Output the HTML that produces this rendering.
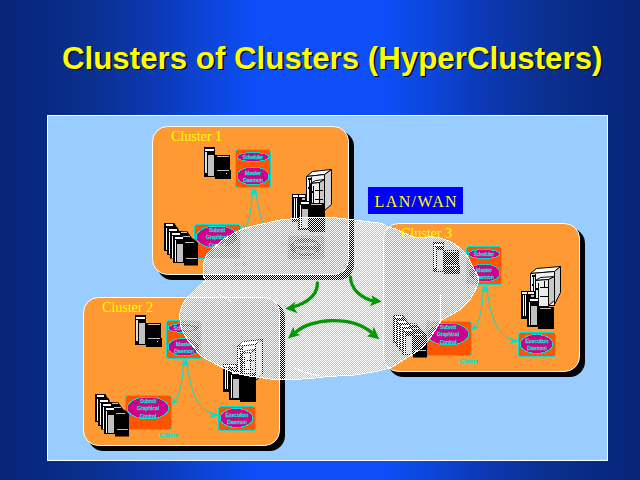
<!DOCTYPE html>
<html><head><meta charset="utf-8"><style>html,body{margin:0;padding:0;width:640px;height:480px;overflow:hidden;background:#0A2472}</style></head>
<body><svg width="640" height="480" viewBox="0 0 640 480" style="display:block">
<defs>
<linearGradient id="bg" x1="0" y1="0" x2="1" y2="0">
<stop offset="0" stop-color="#072478"/><stop offset="0.15" stop-color="#0A3090"/><stop offset="0.25" stop-color="#0B3AB8"/><stop offset="0.33" stop-color="#0D46DC"/><stop offset="0.4" stop-color="#0E4EF8"/><stop offset="0.6" stop-color="#0E4EF8"/><stop offset="0.67" stop-color="#0D46DC"/><stop offset="0.75" stop-color="#0B3AB8"/><stop offset="0.85" stop-color="#0A3090"/><stop offset="1" stop-color="#072478"/>
</linearGradient>
<pattern id="dith" x="0" y="0" width="2" height="2" patternUnits="userSpaceOnUse">
<rect x="0" y="0" width="1" height="1" fill="#fff"/><rect x="1" y="1" width="1" height="1" fill="#fff"/>
</pattern>
</defs>
<rect width="640" height="480" fill="url(#bg)"/>
<text transform="translate(63.5,70) scale(0.978,1)" x="0" y="0" font-family="Liberation Sans" font-weight="bold" font-size="32" fill="#000">Clusters of Clusters (HyperClusters)</text>
<text transform="translate(62,68.5) scale(0.978,1)" x="0" y="0" font-family="Liberation Sans" font-weight="bold" font-size="32" fill="#FFFF00">Clusters of Clusters (HyperClusters)</text>
<rect x="47.5" y="115.5" width="560" height="345" fill="#99CCFF" stroke="#fff" stroke-width="1"/>
<g transform="translate(152,126)"><rect x="5" y="5" width="197" height="149" rx="15.5" fill="#000"/><rect x="0.5" y="0.5" width="196" height="148" rx="15" fill="#FF9933" stroke="#fff" stroke-width="1"/><g transform="translate(0,0)"><rect x="52" y="21" width="11" height="30" fill="#000"/><rect x="53" y="23" width="9" height="2" fill="#fff"/><rect x="53" y="26" width="2" height="21" fill="#e0e0e0"/><rect x="56" y="29" width="6" height="21" fill="#c0c0c0"/><rect x="63" y="29" width="15" height="24" fill="#000"/><rect x="77" y="44" width="2" height="9" fill="#000"/><rect x="65" y="30" width="12" height="1" fill="#c0c0c0"/><rect x="65" y="44" width="12" height="1" fill="#c0c0c0"/><rect x="74" y="47" width="1" height="1" fill="#fff"/><rect x="83.5" y="23.5" width="35" height="38" rx="3" fill="#FF5500" stroke="#00E0D0" shape-rendering="crispEdges"/><ellipse cx="101" cy="31" rx="16" ry="4.5" fill="#D0008C" stroke="#00E0D0" shape-rendering="crispEdges"/><ellipse cx="101" cy="50" rx="16" ry="9" fill="#D0008C" stroke="#00E0D0" shape-rendering="crispEdges"/><text x="101" y="33" font-family="Liberation Sans" font-size="4.5" fill="#00E0D0" stroke="#00E0D0" stroke-width="0.3" text-anchor="middle">Scheduler</text><text x="101" y="48.5" font-family="Liberation Sans" font-size="5.2" fill="#00E0D0" stroke="#00E0D0" stroke-width="0.3" text-anchor="middle">Master</text><text x="101" y="55.5" font-family="Liberation Sans" font-size="5.2" fill="#00E0D0" stroke="#00E0D0" stroke-width="0.3" text-anchor="middle">Daemon</text><rect x="42.5" y="98.5" width="46" height="34" rx="3" fill="#FF5500" stroke="#00E0D0" shape-rendering="crispEdges"/><ellipse cx="65" cy="111" rx="21" ry="11" fill="#D0008C" stroke="#00E0D0" shape-rendering="crispEdges"/><text x="65" y="105.5" font-family="Liberation Sans" font-size="5.2" fill="#00E0D0" stroke="#00E0D0" stroke-width="0.3" text-anchor="middle">Submit</text><text x="65" y="113" font-family="Liberation Sans" font-size="5.2" fill="#00E0D0" stroke="#00E0D0" stroke-width="0.3" text-anchor="middle">Graphical</text><text x="65" y="120.5" font-family="Liberation Sans" font-size="5.2" fill="#00E0D0" stroke="#00E0D0" stroke-width="0.3" text-anchor="middle">Control</text><rect x="135.5" y="109.5" width="37" height="24" rx="3" fill="#FF5500" stroke="#00E0D0" shape-rendering="crispEdges"/><ellipse cx="153.5" cy="121" rx="16.5" ry="9.5" fill="#D0008C" stroke="#00E0D0" shape-rendering="crispEdges"/><text x="154" y="120" font-family="Liberation Sans" font-size="5.2" fill="#00E0D0" stroke="#00E0D0" stroke-width="0.3" text-anchor="middle">Execution</text><text x="154" y="126.5" font-family="Liberation Sans" font-size="5.2" fill="#00E0D0" stroke="#00E0D0" stroke-width="0.3" text-anchor="middle">Daemon</text><text x="85.5" y="140" font-family="Liberation Sans" font-size="6" fill="#00E0D0" stroke="#00E0D0" stroke-width="0.3" text-anchor="middle">Clients</text><path d="M100.5,64 C100,78 98.5,90 95,99 S91,105 89,107" fill="none" stroke="#00E0D0" stroke-width="1"/><path d="M103.5,64 C106,82 110,100 117,108 S128,116 135,118" fill="none" stroke="#00E0D0" stroke-width="1"/><polygon points="101,61.5 98,70 101,68 103,69" fill="#00E0D0"/><polygon points="103,61.5 101,69 103,68 106,70" fill="#00E0D0"/><polygon points="88.5,108 91,99.5 92,104 97,104" fill="#00E0D0"/><polygon points="135.5,118.5 126.5,114.5 129,118 125.5,121.5" fill="#00E0D0"/><polygon points="12,97 22.5,97 24,100 26,102 27,105 35.5,105.5 37,108 40,112 43,114 46,117 46,139.5 32,139.5 32,137 21,137 21,132.5 18,132.5 18,129 15,129 15,125 12,125" fill="#000"/><rect x="14" y="98" width="7" height="2" fill="#fff"/><rect x="17" y="103" width="8" height="2" fill="#fff"/><rect x="20" y="107" width="8" height="2" fill="#fff"/><rect x="23" y="111" width="8" height="2" fill="#fff"/><rect x="14" y="102" width="1" height="22" fill="#fff"/><rect x="17" y="106" width="1" height="22" fill="#fff"/><rect x="20" y="110" width="1" height="22" fill="#fff"/><rect x="23" y="114" width="1" height="22" fill="#fff"/><rect x="25" y="118" width="6" height="18" fill="#c0c0c0"/><rect x="29" y="106" width="6" height="1" fill="#c0c0c0"/><rect x="31" y="110" width="7" height="1" fill="#c0c0c0"/><rect x="33" y="116" width="9" height="1" fill="#c0c0c0"/><rect x="34" y="132" width="11" height="1" fill="#c0c0c0"/><polygon points="154.5,50.5 160.5,45.5 179.5,43.5 172.5,48.5" fill="#fff" stroke="#000" stroke-width="1"/><polygon points="172.5,48.5 179.5,43.5 179.5,78.5 172.5,84.5" fill="#d0d0d0" stroke="#000" stroke-width="1"/><polygon points="154.5,50.5 172.5,48.5 172.5,82.5 154.5,82.5" fill="#f4f4f4" stroke="#000" stroke-width="1"/><rect x="157.0" y="53" width="1" height="28" fill="#000"/><rect x="156.0" y="52" width="3" height="2" fill="#000"/><polygon points="158.5,57.5 163.5,54.5 172.5,53.5 167.5,56.5" fill="#fff" stroke="#000" stroke-width="1"/><polygon points="167.5,56.5 172.5,53.5 172.5,77.5 167.5,82.5" fill="#c8c8c8" stroke="#000" stroke-width="1"/><polygon points="158.5,57.5 167.5,56.5 167.5,83.5 158.5,83.5" fill="#ececec" stroke="#000" stroke-width="1"/><rect x="161.0" y="60" width="1" height="23" fill="#000"/><rect x="159.0" y="65" width="2" height="2" fill="#000"/><rect x="163.0" y="64" width="8" height="1" fill="#000"/><rect x="163.0" y="73" width="8" height="1" fill="#000"/><rect x="167.0" y="58" width="1" height="6" fill="#000"/><rect x="159.0" y="51" width="1" height="31" fill="#000"/><rect x="156.0" y="61" width="2" height="2" fill="#000"/><rect x="140" y="68" width="14" height="28" fill="#000"/><rect x="141" y="69" width="5" height="2" fill="#fff"/><rect x="142" y="72" width="1" height="21" fill="#fff"/><rect x="144" y="72" width="1" height="21" fill="#fff"/><rect x="147" y="69" width="6" height="2" fill="#fff"/><rect x="150" y="72" width="3" height="2" fill="#c0c0c0"/><rect x="146" y="75" width="12" height="29" fill="#000"/><rect x="149" y="76" width="8" height="2" fill="#fff"/><rect x="148" y="79" width="1" height="23" fill="#fff"/><rect x="150" y="83" width="6" height="19" fill="#c0c0c0"/><rect x="157" y="77" width="16" height="29" fill="#000"/><rect x="159" y="78" width="11" height="1" fill="#c0c0c0"/></g></g>
<g transform="translate(83,297)"><rect x="5" y="5" width="197" height="149" rx="15.5" fill="#000"/><rect x="0.5" y="0.5" width="196" height="148" rx="15" fill="#FF9933" stroke="#fff" stroke-width="1"/><g transform="translate(0,0)"><rect x="52" y="18" width="11" height="30" fill="#000"/><rect x="53" y="20" width="9" height="2" fill="#fff"/><rect x="53" y="23" width="2" height="21" fill="#e0e0e0"/><rect x="56" y="26" width="6" height="21" fill="#c0c0c0"/><rect x="63" y="26" width="15" height="24" fill="#000"/><rect x="77" y="41" width="2" height="9" fill="#000"/><rect x="65" y="27" width="12" height="1" fill="#c0c0c0"/><rect x="65" y="41" width="12" height="1" fill="#c0c0c0"/><rect x="74" y="44" width="1" height="1" fill="#fff"/><rect x="83.5" y="23.5" width="35" height="38" rx="3" fill="#FF5500" stroke="#00E0D0" shape-rendering="crispEdges"/><ellipse cx="101" cy="31" rx="16" ry="4.5" fill="#D0008C" stroke="#00E0D0" shape-rendering="crispEdges"/><ellipse cx="101" cy="50" rx="16" ry="9" fill="#D0008C" stroke="#00E0D0" shape-rendering="crispEdges"/><text x="101" y="33" font-family="Liberation Sans" font-size="4.5" fill="#00E0D0" stroke="#00E0D0" stroke-width="0.3" text-anchor="middle">Scheduler</text><text x="101" y="48.5" font-family="Liberation Sans" font-size="5.2" fill="#00E0D0" stroke="#00E0D0" stroke-width="0.3" text-anchor="middle">Master</text><text x="101" y="55.5" font-family="Liberation Sans" font-size="5.2" fill="#00E0D0" stroke="#00E0D0" stroke-width="0.3" text-anchor="middle">Daemon</text><rect x="42.5" y="98.5" width="46" height="34" rx="3" fill="#FF5500" stroke="#00E0D0" shape-rendering="crispEdges"/><ellipse cx="65" cy="111" rx="21" ry="11" fill="#D0008C" stroke="#00E0D0" shape-rendering="crispEdges"/><text x="65" y="105.5" font-family="Liberation Sans" font-size="5.2" fill="#00E0D0" stroke="#00E0D0" stroke-width="0.3" text-anchor="middle">Submit</text><text x="65" y="113" font-family="Liberation Sans" font-size="5.2" fill="#00E0D0" stroke="#00E0D0" stroke-width="0.3" text-anchor="middle">Graphical</text><text x="65" y="120.5" font-family="Liberation Sans" font-size="5.2" fill="#00E0D0" stroke="#00E0D0" stroke-width="0.3" text-anchor="middle">Control</text><rect x="135.5" y="109.5" width="37" height="24" rx="3" fill="#FF5500" stroke="#00E0D0" shape-rendering="crispEdges"/><ellipse cx="153.5" cy="121" rx="16.5" ry="9.5" fill="#D0008C" stroke="#00E0D0" shape-rendering="crispEdges"/><text x="154" y="120" font-family="Liberation Sans" font-size="5.2" fill="#00E0D0" stroke="#00E0D0" stroke-width="0.3" text-anchor="middle">Execution</text><text x="154" y="126.5" font-family="Liberation Sans" font-size="5.2" fill="#00E0D0" stroke="#00E0D0" stroke-width="0.3" text-anchor="middle">Daemon</text><text x="85.5" y="140" font-family="Liberation Sans" font-size="6" fill="#00E0D0" stroke="#00E0D0" stroke-width="0.3" text-anchor="middle">Clients</text><path d="M100.5,64 C100,78 98.5,90 95,99 S91,105 89,107" fill="none" stroke="#00E0D0" stroke-width="1"/><path d="M103.5,64 C106,82 110,100 117,108 S128,116 135,118" fill="none" stroke="#00E0D0" stroke-width="1"/><polygon points="101,61.5 98,70 101,68 103,69" fill="#00E0D0"/><polygon points="103,61.5 101,69 103,68 106,70" fill="#00E0D0"/><polygon points="88.5,108 91,99.5 92,104 97,104" fill="#00E0D0"/><polygon points="135.5,118.5 126.5,114.5 129,118 125.5,121.5" fill="#00E0D0"/><polygon points="12,97 22.5,97 24,100 26,102 27,105 35.5,105.5 37,108 40,112 43,114 46,117 46,139.5 32,139.5 32,137 21,137 21,132.5 18,132.5 18,129 15,129 15,125 12,125" fill="#000"/><rect x="14" y="98" width="7" height="2" fill="#fff"/><rect x="17" y="103" width="8" height="2" fill="#fff"/><rect x="20" y="107" width="8" height="2" fill="#fff"/><rect x="23" y="111" width="8" height="2" fill="#fff"/><rect x="14" y="102" width="1" height="22" fill="#fff"/><rect x="17" y="106" width="1" height="22" fill="#fff"/><rect x="20" y="110" width="1" height="22" fill="#fff"/><rect x="23" y="114" width="1" height="22" fill="#fff"/><rect x="25" y="118" width="6" height="18" fill="#c0c0c0"/><rect x="29" y="106" width="6" height="1" fill="#c0c0c0"/><rect x="31" y="110" width="7" height="1" fill="#c0c0c0"/><rect x="33" y="116" width="9" height="1" fill="#c0c0c0"/><rect x="34" y="132" width="11" height="1" fill="#c0c0c0"/><polygon points="154.5,49.5 160.5,44.5 179.5,42.5 172.5,47.5" fill="#fff" stroke="#000" stroke-width="1"/><polygon points="172.5,47.5 179.5,42.5 179.5,77.5 172.5,83.5" fill="#d0d0d0" stroke="#000" stroke-width="1"/><polygon points="154.5,49.5 172.5,47.5 172.5,81.5 154.5,81.5" fill="#f4f4f4" stroke="#000" stroke-width="1"/><rect x="157.0" y="52" width="1" height="28" fill="#000"/><rect x="156.0" y="51" width="3" height="2" fill="#000"/><polygon points="158.5,56.5 163.5,53.5 172.5,52.5 167.5,55.5" fill="#fff" stroke="#000" stroke-width="1"/><polygon points="167.5,55.5 172.5,52.5 172.5,76.5 167.5,81.5" fill="#c8c8c8" stroke="#000" stroke-width="1"/><polygon points="158.5,56.5 167.5,55.5 167.5,82.5 158.5,82.5" fill="#ececec" stroke="#000" stroke-width="1"/><rect x="161.0" y="59" width="1" height="23" fill="#000"/><rect x="159.0" y="64" width="2" height="2" fill="#000"/><rect x="163.0" y="63" width="8" height="1" fill="#000"/><rect x="163.0" y="72" width="8" height="1" fill="#000"/><rect x="167.0" y="57" width="1" height="6" fill="#000"/><rect x="159.0" y="50" width="1" height="31" fill="#000"/><rect x="156.0" y="60" width="2" height="2" fill="#000"/><rect x="140" y="67" width="14" height="28" fill="#000"/><rect x="141" y="68" width="5" height="2" fill="#fff"/><rect x="142" y="71" width="1" height="21" fill="#fff"/><rect x="144" y="71" width="1" height="21" fill="#fff"/><rect x="147" y="68" width="6" height="2" fill="#fff"/><rect x="150" y="71" width="3" height="2" fill="#c0c0c0"/><rect x="146" y="74" width="12" height="29" fill="#000"/><rect x="149" y="75" width="8" height="2" fill="#fff"/><rect x="148" y="78" width="1" height="23" fill="#fff"/><rect x="150" y="82" width="6" height="19" fill="#c0c0c0"/><rect x="157" y="76" width="16" height="29" fill="#000"/><rect x="159" y="77" width="11" height="1" fill="#c0c0c0"/></g></g>
<g transform="translate(383,223)"><rect x="5" y="5" width="197" height="149" rx="15.5" fill="#000"/><rect x="0.5" y="0.5" width="196" height="148" rx="15" fill="#FF9933" stroke="#fff" stroke-width="1"/><g transform="translate(0,0)"><rect x="50" y="19" width="11" height="30" fill="#000"/><rect x="51" y="21" width="9" height="2" fill="#fff"/><rect x="51" y="24" width="2" height="21" fill="#e0e0e0"/><rect x="54" y="27" width="6" height="21" fill="#c0c0c0"/><rect x="61" y="27" width="15" height="24" fill="#000"/><rect x="75" y="42" width="2" height="9" fill="#000"/><rect x="63" y="28" width="12" height="1" fill="#c0c0c0"/><rect x="63" y="42" width="12" height="1" fill="#c0c0c0"/><rect x="72" y="45" width="1" height="1" fill="#fff"/><rect x="83.5" y="23.5" width="35" height="38" rx="3" fill="#FF5500" stroke="#00E0D0" shape-rendering="crispEdges"/><ellipse cx="101" cy="31" rx="16" ry="4.5" fill="#D0008C" stroke="#00E0D0" shape-rendering="crispEdges"/><ellipse cx="101" cy="50" rx="16" ry="9" fill="#D0008C" stroke="#00E0D0" shape-rendering="crispEdges"/><text x="101" y="33" font-family="Liberation Sans" font-size="4.5" fill="#00E0D0" stroke="#00E0D0" stroke-width="0.3" text-anchor="middle">Scheduler</text><text x="101" y="48.5" font-family="Liberation Sans" font-size="5.2" fill="#00E0D0" stroke="#00E0D0" stroke-width="0.3" text-anchor="middle">Master</text><text x="101" y="55.5" font-family="Liberation Sans" font-size="5.2" fill="#00E0D0" stroke="#00E0D0" stroke-width="0.3" text-anchor="middle">Daemon</text><rect x="42.5" y="98.5" width="46" height="34" rx="3" fill="#FF5500" stroke="#00E0D0" shape-rendering="crispEdges"/><ellipse cx="65" cy="111" rx="21" ry="11" fill="#D0008C" stroke="#00E0D0" shape-rendering="crispEdges"/><text x="65" y="105.5" font-family="Liberation Sans" font-size="5.2" fill="#00E0D0" stroke="#00E0D0" stroke-width="0.3" text-anchor="middle">Submit</text><text x="65" y="113" font-family="Liberation Sans" font-size="5.2" fill="#00E0D0" stroke="#00E0D0" stroke-width="0.3" text-anchor="middle">Graphical</text><text x="65" y="120.5" font-family="Liberation Sans" font-size="5.2" fill="#00E0D0" stroke="#00E0D0" stroke-width="0.3" text-anchor="middle">Control</text><rect x="135.5" y="109.5" width="37" height="24" rx="3" fill="#FF5500" stroke="#00E0D0" shape-rendering="crispEdges"/><ellipse cx="153.5" cy="121" rx="16.5" ry="9.5" fill="#D0008C" stroke="#00E0D0" shape-rendering="crispEdges"/><text x="154" y="120" font-family="Liberation Sans" font-size="5.2" fill="#00E0D0" stroke="#00E0D0" stroke-width="0.3" text-anchor="middle">Execution</text><text x="154" y="126.5" font-family="Liberation Sans" font-size="5.2" fill="#00E0D0" stroke="#00E0D0" stroke-width="0.3" text-anchor="middle">Daemon</text><text x="85.5" y="140" font-family="Liberation Sans" font-size="6" fill="#00E0D0" stroke="#00E0D0" stroke-width="0.3" text-anchor="middle">Clients</text><path d="M100.5,64 C100,78 98.5,90 95,99 S91,105 89,107" fill="none" stroke="#00E0D0" stroke-width="1"/><path d="M103.5,64 C106,82 110,100 117,108 S128,116 135,118" fill="none" stroke="#00E0D0" stroke-width="1"/><polygon points="101,61.5 98,70 101,68 103,69" fill="#00E0D0"/><polygon points="103,61.5 101,69 103,68 106,70" fill="#00E0D0"/><polygon points="88.5,108 91,99.5 92,104 97,104" fill="#00E0D0"/><polygon points="135.5,118.5 126.5,114.5 129,118 125.5,121.5" fill="#00E0D0"/><polygon points="10,92 20.5,92 22,95 24,97 25,100 33.5,100.5 35,103 38,107 41,109 44,112 44,134.5 30,134.5 30,132 19,132 19,127.5 16,127.5 16,124 13,124 13,120 10,120" fill="#000"/><rect x="12" y="93" width="7" height="2" fill="#fff"/><rect x="15" y="98" width="8" height="2" fill="#fff"/><rect x="18" y="102" width="8" height="2" fill="#fff"/><rect x="21" y="106" width="8" height="2" fill="#fff"/><rect x="12" y="97" width="1" height="22" fill="#fff"/><rect x="15" y="101" width="1" height="22" fill="#fff"/><rect x="18" y="105" width="1" height="22" fill="#fff"/><rect x="21" y="109" width="1" height="22" fill="#fff"/><rect x="23" y="113" width="6" height="18" fill="#c0c0c0"/><rect x="27" y="101" width="6" height="1" fill="#c0c0c0"/><rect x="29" y="105" width="7" height="1" fill="#c0c0c0"/><rect x="31" y="111" width="9" height="1" fill="#c0c0c0"/><rect x="32" y="127" width="11" height="1" fill="#c0c0c0"/><polygon points="147.5,50.5 153.5,45.5 177.5,43.5 171.5,48.5" fill="#fff" stroke="#000" stroke-width="1"/><polygon points="171.5,48.5 177.5,43.5 177.5,69.5 171.5,81.5" fill="#d0d0d0" stroke="#000" stroke-width="1"/><polygon points="147.5,50.5 171.5,48.5 171.5,82.5 147.5,82.5" fill="#f4f4f4" stroke="#000" stroke-width="1"/><rect x="150.0" y="53" width="1" height="28" fill="#000"/><rect x="149.0" y="52" width="3" height="2" fill="#000"/><polygon points="152.5,57.5 157.5,54.5 171.5,53.5 165.5,56.5" fill="#fff" stroke="#000" stroke-width="1"/><polygon points="165.5,56.5 171.5,53.5 171.5,77.5 165.5,82.5" fill="#c8c8c8" stroke="#000" stroke-width="1"/><polygon points="152.5,57.5 165.5,56.5 165.5,83.5 152.5,83.5" fill="#ececec" stroke="#000" stroke-width="1"/><rect x="155.0" y="60" width="1" height="23" fill="#000"/><rect x="153.0" y="65" width="2" height="2" fill="#000"/><rect x="157.0" y="64" width="8" height="1" fill="#000"/><rect x="157.0" y="73" width="8" height="1" fill="#000"/><rect x="161.0" y="58" width="1" height="6" fill="#000"/><rect x="152.0" y="51" width="1" height="31" fill="#000"/><rect x="149.0" y="61" width="2" height="2" fill="#000"/><rect x="138" y="68" width="14" height="28" fill="#000"/><rect x="139" y="69" width="5" height="2" fill="#fff"/><rect x="140" y="72" width="1" height="21" fill="#fff"/><rect x="142" y="72" width="1" height="21" fill="#fff"/><rect x="145" y="69" width="6" height="2" fill="#fff"/><rect x="148" y="72" width="3" height="2" fill="#c0c0c0"/><rect x="144" y="75" width="12" height="29" fill="#000"/><rect x="147" y="76" width="8" height="2" fill="#fff"/><rect x="146" y="79" width="1" height="23" fill="#fff"/><rect x="148" y="83" width="6" height="19" fill="#c0c0c0"/><rect x="155" y="84" width="16" height="22" fill="#000"/><rect x="157" y="85" width="11" height="1" fill="#c0c0c0"/></g></g>
<rect x="368" y="187" width="95" height="27" fill="#0000FF"/>
<text x="374.5" y="206.5" font-family="Liberation Serif" font-size="16" letter-spacing="1.4" fill="#FFFF00">LAN/WAN</text>
<path d="M290,219 C294.2,218.6 298.3,217.8 305,217.5 C311.7,217.2 321.8,217.1 330,217.5 C338.2,217.9 347.3,219.2 354,220 C360.7,220.8 365.3,221.4 370,222 C374.7,222.6 379.0,222.7 382,223.5 C385.0,224.3 385.9,226.2 388,227 C390.1,227.8 392.0,227.7 394.3,228.5 C396.6,229.3 399.4,230.8 402,232 C404.6,233.2 407.6,234.5 409.7,235.4 C411.8,236.3 412.1,236.9 414.4,237.2 C416.7,237.5 420.6,237.3 423.7,237.2 C426.8,237.1 430.0,236.6 433.1,236.8 C436.2,237.1 439.4,237.8 442.5,238.7 C445.6,239.6 449.1,240.9 451.9,242.4 C454.7,243.9 457.4,246.0 459.4,247.6 C461.4,249.2 462.6,250.7 464,252.2 C465.4,253.7 466.2,253.9 467.9,256.7 C469.6,259.5 472.2,265.3 474,268.9 C475.8,272.4 478.1,275.0 478.5,278 C478.9,281.0 478.1,283.5 476.7,287 C475.3,290.5 473.2,295.2 470.4,299 C467.6,302.8 464.2,306.4 460,309.6 C455.8,312.8 448.6,316.1 445.4,318 C442.2,319.9 441.7,320.5 441,321 C440.0,322.6 437.7,326.4 435,330.4 C432.3,334.4 428.1,341.2 424.6,345 C421.1,348.8 418.3,350.5 414.2,353.3 C410.1,356.1 403.7,359.7 400,362 C396.3,364.3 394.7,365.9 392,367.2 C389.3,368.5 387.4,368.8 384,369.6 C380.6,370.5 377.1,371.4 371.6,372.3 C366.2,373.2 358.1,374.6 351.3,375.3 C344.5,376.0 337.8,375.8 331,376.3 C324.2,376.8 318.3,377.8 310.6,378.4 C302.9,379.0 291.8,379.7 285,379.8 C278.2,379.9 277.7,380.0 270,379 C262.3,378.0 246.9,375.9 239,374 C231.1,372.1 227.3,369.7 222.5,367.5 C217.7,365.3 213.8,363.1 210,361 C206.2,358.9 202.7,357.2 200,355 C197.3,352.8 196.1,350.0 194,347.5 C191.9,345.0 189.5,342.9 187.5,340 C185.5,337.1 183.2,333.3 182,330 C180.8,326.7 180.2,323.3 180,320 C179.8,316.7 179.5,313.5 180.5,310 C181.5,306.5 184.0,301.9 186,299 C188.0,296.1 190.4,294.7 192.5,292.5 C194.6,290.3 196.5,288.1 198.75,286 C201.0,283.9 204.8,281.0 206,280 C205.7,279.6 204.5,279.6 204,277.5 C203.5,275.4 203.0,270.2 203.1,267.5 C203.2,264.8 203.8,263.2 204.4,261 C205.0,258.8 205.2,256.8 206.9,254.4 C208.6,252.1 211.6,249.4 214.4,246.9 C217.2,244.4 220.6,241.6 223.7,239.4 C226.8,237.2 230.0,235.4 233.1,233.7 C236.2,232.0 239.4,230.2 242.5,229 C245.6,227.8 248.2,227.1 251.9,226.2 C255.7,225.3 260.3,224.4 265,223.4 C269.7,222.4 275.8,220.7 280,220 C284.2,219.3 285.8,219.4 290,219Z" fill="url(#dith)" shape-rendering="crispEdges"/>
<path d="M290,219 C294.2,218.6 298.3,217.8 305,217.5 C311.7,217.2 321.8,217.1 330,217.5 C338.2,217.9 347.3,219.2 354,220 C360.7,220.8 365.3,221.4 370,222 C374.7,222.6 379.0,222.7 382,223.5 C385.0,224.3 385.9,226.2 388,227 C390.1,227.8 392.0,227.7 394.3,228.5 C396.6,229.3 399.4,230.8 402,232 C404.6,233.2 407.6,234.5 409.7,235.4 C411.8,236.3 412.1,236.9 414.4,237.2 C416.7,237.5 420.6,237.3 423.7,237.2 C426.8,237.1 430.0,236.6 433.1,236.8 C436.2,237.1 439.4,237.8 442.5,238.7 C445.6,239.6 449.1,240.9 451.9,242.4 C454.7,243.9 457.4,246.0 459.4,247.6 C461.4,249.2 462.6,250.7 464,252.2 C465.4,253.7 466.2,253.9 467.9,256.7 C469.6,259.5 472.2,265.3 474,268.9 C475.8,272.4 478.1,275.0 478.5,278 C478.9,281.0 478.1,283.5 476.7,287 C475.3,290.5 473.2,295.2 470.4,299 C467.6,302.8 464.2,306.4 460,309.6 C455.8,312.8 448.6,316.1 445.4,318 C442.2,319.9 441.7,320.5 441,321 C440.0,322.6 437.7,326.4 435,330.4 C432.3,334.4 428.1,341.2 424.6,345 C421.1,348.8 418.3,350.5 414.2,353.3 C410.1,356.1 403.7,359.7 400,362 C396.3,364.3 394.7,365.9 392,367.2 C389.3,368.5 387.4,368.8 384,369.6 C380.6,370.5 377.1,371.4 371.6,372.3 C366.2,373.2 358.1,374.6 351.3,375.3 C344.5,376.0 337.8,375.8 331,376.3 C324.2,376.8 318.3,377.8 310.6,378.4 C302.9,379.0 291.8,379.7 285,379.8 C278.2,379.9 277.7,380.0 270,379 C262.3,378.0 246.9,375.9 239,374 C231.1,372.1 227.3,369.7 222.5,367.5 C217.7,365.3 213.8,363.1 210,361 C206.2,358.9 202.7,357.2 200,355 C197.3,352.8 196.1,350.0 194,347.5 C191.9,345.0 189.5,342.9 187.5,340 C185.5,337.1 183.2,333.3 182,330 C180.8,326.7 180.2,323.3 180,320 C179.8,316.7 179.5,313.5 180.5,310 C181.5,306.5 184.0,301.9 186,299 C188.0,296.1 190.4,294.7 192.5,292.5 C194.6,290.3 196.5,288.1 198.75,286 C201.0,283.9 204.8,281.0 206,280 C205.7,279.6 204.5,279.6 204,277.5 C203.5,275.4 203.0,270.2 203.1,267.5 C203.2,264.8 203.8,263.2 204.4,261 C205.0,258.8 205.2,256.8 206.9,254.4 C208.6,252.1 211.6,249.4 214.4,246.9 C217.2,244.4 220.6,241.6 223.7,239.4 C226.8,237.2 230.0,235.4 233.1,233.7 C236.2,232.0 239.4,230.2 242.5,229 C245.6,227.8 248.2,227.1 251.9,226.2 C255.7,225.3 260.3,224.4 265,223.4 C269.7,222.4 275.8,220.7 280,220 C284.2,219.3 285.8,219.4 290,219Z" fill="none" stroke="#fff" stroke-width="1" shape-rendering="crispEdges"/>
<path d="M440.5,294 C441,305 441,315 440,322" fill="none" stroke="#fff" stroke-width="1" shape-rendering="crispEdges"/>
<path d="M294.5,368 C302,372 310,374 319,375.5" fill="none" stroke="#fff" stroke-width="1" shape-rendering="crispEdges"/>
<path d="M219,294 L231,301.5" fill="none" stroke="#fff" stroke-width="1" shape-rendering="crispEdges"/>
<text x="171" y="140.5" font-family="Liberation Serif" font-size="14" fill="#FFFF00">Cluster 1</text>
<text x="102" y="311.5" font-family="Liberation Serif" font-size="14" fill="#FFFF00">Cluster 2</text>
<text x="401" y="237.5" font-family="Liberation Serif" font-size="14" fill="#FFFF00">Cluster 3</text>
<path d="M317.4,283 C317.5,292 311,300 299,305 L293,307" fill="none" stroke="#009900" stroke-width="3.3" stroke-linecap="round"/>
<polygon points="285.3,308.75 295.75,301.7 293.5,306.5 297.4,313.3" fill="#009900"/>
<path d="M350.4,277 C351,288 359,297 373,301" fill="none" stroke="#009900" stroke-width="3.3" stroke-linecap="round"/>
<polygon points="381.7,301.6 371.7,295.3 373,301 369.6,306.2" fill="#009900"/>
<path d="M295,333 C310,318 352,315 372,333" fill="none" stroke="#009900" stroke-width="3.3"/>
<polygon points="287.9,338.6 293.4,326.8 295,333 300.4,335.1" fill="#009900"/>
<polygon points="379.3,339.3 373.8,326.8 372,333 366.8,336.2" fill="#009900"/>
</svg></body></html>
